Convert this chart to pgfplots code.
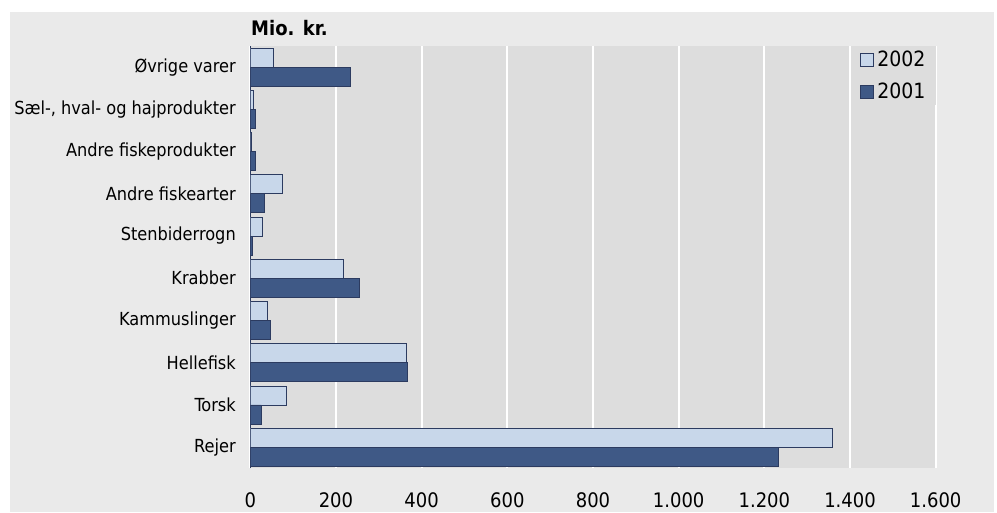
\documentclass[border=0pt]{standalone}
\usepackage{pgfplots}
\pgfplotsset{compat=1.18}
\usepackage{fontspec}
\setmainfont{DejaVu Sans Condensed}
\definecolor{outerbg}{HTML}{EAEAEA}
\definecolor{plotbg}{HTML}{DDDDDD}
\definecolor{lightbar}{HTML}{C8D7EA}
\definecolor{darkbar}{HTML}{3F5986}
\definecolor{barline}{HTML}{2C3B60}
\begin{document}
\begin{tikzpicture}[x=1pt,y=1pt]
\useasboundingbox (0,0) rectangle (997,512);
\fill[white] (0,0) rectangle (997,512);
\fill[outerbg] (10,0) rectangle (994,500);
\node[anchor=base west, inner sep=0pt, font=\fontsize{20}{24}\selectfont\bfseries] at (251,476) {Mio. kr.};
\begin{axis}[
  at={(250.3pt,43.7pt)}, anchor=south west,
  scale only axis, width=685.4pt, height=422.3pt,
  xbar, xmin=0, xmax=1600, ymin=-0.5, ymax=9.5,
  bar width=19pt,
  ytick={0,...,9},
  yticklabels={Rejer,Torsk,Hellefisk,Kammuslinger,Krabber,Stenbiderrogn,Andre fiskearter,Andre fiskeprodukter,{Sæl-, hval- og hajprodukter},Øvrige varer},
  xtick={0,200,...,1600},
  /pgf/number format/.cd, 1000 sep={.}, assume math mode=true, /pgfplots/.cd,
  axis background/.style={fill=plotbg},
  xmajorgrids, grid style={white, line width=2pt},
  major tick length=0pt,
  axis x line*=bottom, axis y line*=left,
  axis line style={-},
  x axis line style={draw=none},
  y axis line style={draw=barline, line width=1pt},
  yticklabel style={font=\fontsize{18}{20}\selectfont, xshift=-11pt},
  xticklabel style={font=\fontsize{20}{22}\selectfont, yshift=-21pt},
  legend style={at={(rel axis cs:1,1)}, anchor=north east, fill=plotbg, draw=none,
    font=\fontsize{21}{24}\selectfont, row sep=11pt, inner xsep=8pt, inner ysep=3pt,
    /tikz/every odd column/.append style={column sep=2pt}},
  legend cell align=left,
]
\addplot[fill=lightbar, draw=barline, line width=0.8pt, bar shift=9.5pt,
  legend image code/.code={\draw[fill=lightbar, draw=barline, line width=0.8pt] (0pt,-6.5pt) rectangle (13pt,6.5pt);}]
  coordinates {(1360,0) (85,1) (365,2) (40,3) (218,4) (29,5) (76,6) (2,7) (8,8) (54,9)};
\addlegendentry{2002}
\addplot[fill=darkbar, draw=barline, line width=0.8pt, bar shift=-9.5pt,
  legend image code/.code={\draw[fill=darkbar, draw=barline, line width=0.8pt] (0pt,-6.5pt) rectangle (13pt,6.5pt);}]
  coordinates {(1233,0) (26,1) (366,2) (46,3) (255,4) (4,5) (34,6) (13,7) (12,8) (233,9)};
\addlegendentry{2001}
\end{axis}
\end{tikzpicture}
\end{document}
